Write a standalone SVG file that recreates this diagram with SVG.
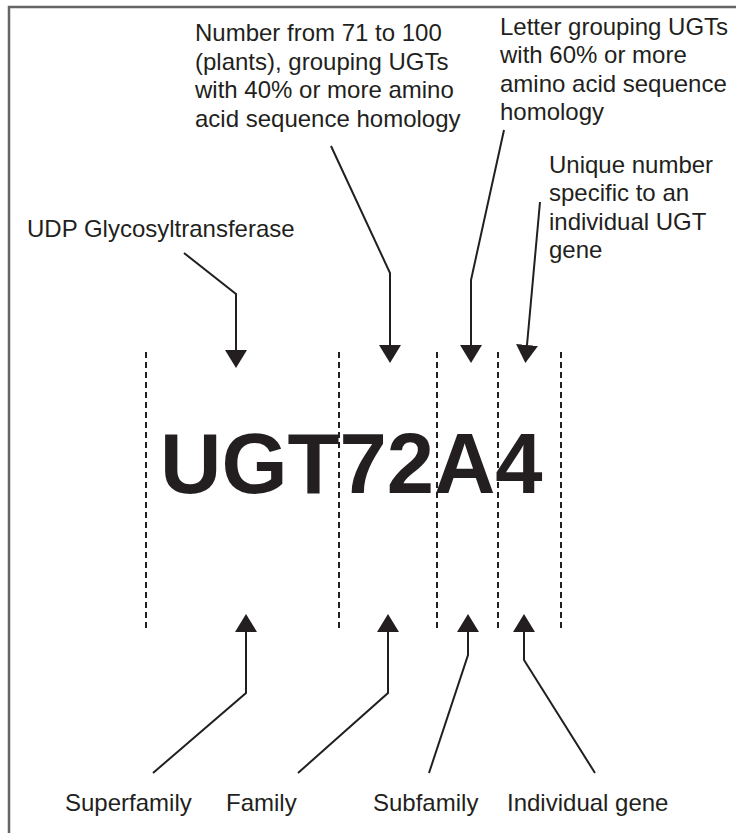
<svg xmlns="http://www.w3.org/2000/svg" width="736" height="833" viewBox="0 0 736 833">
<style>
.t{font-family:"Liberation Sans",Arial,sans-serif;font-size:24px;fill:#231f20}
.big{font-family:"Liberation Sans",Arial,sans-serif;font-size:85px;font-weight:bold;fill:#231f20}
.ln{fill:none;stroke:#231f20;stroke-width:2;stroke-linejoin:miter}
.dash{stroke:#231f20;stroke-width:2;stroke-dasharray:6,4}
</style>
<defs>
<marker id="ah" markerUnits="userSpaceOnUse" markerWidth="20" markerHeight="24" viewBox="0 -12 20 24" refX="0" refY="0" orient="auto">
<path d="M0,-11 L18,0 L0,11 z" fill="#231f20"/>
</marker>
</defs>
<rect x="9" y="7" width="740" height="840" fill="none" stroke="#666" stroke-width="2.5"/>
<g id="guides">
<line class="dash" x1="146" y1="352" x2="146" y2="629"/>
<line class="dash" x1="339" y1="352" x2="339" y2="629"/>
<line class="dash" x1="437" y1="352" x2="437" y2="629"/>
<line class="dash" x1="498" y1="352" x2="498" y2="629"/>
<line class="dash" x1="561" y1="352" x2="561" y2="629"/>
</g>
<g id="code"><text class="big" x="160" y="493">UGT72A4</text></g>
<g id="label-family-number">
<text class="t" x="195" y="41">Number from 71 to 100</text>
<text class="t" x="195" y="70">(plants), grouping UGTs</text>
<text class="t" x="195" y="98">with 40% or more amino</text>
<text class="t" x="195" y="127">acid sequence homology</text>
</g>
<g id="label-letter">
<text class="t" x="500" y="35">Letter grouping UGTs</text>
<text class="t" x="500" y="63">with 60% or more</text>
<text class="t" x="500" y="92">amino acid sequence</text>
<text class="t" x="500" y="120">homology</text>
</g>
<g id="label-unique">
<text class="t" x="549" y="173">Unique number</text>
<text class="t" x="549" y="201">specific to an</text>
<text class="t" x="549" y="230">individual UGT</text>
<text class="t" x="549" y="258">gene</text>
</g>
<g id="label-udp"><text class="t" x="27" y="237">UDP Glycosyltransferase</text></g>
<g id="label-superfamily"><text class="t" x="65" y="811">Superfamily</text></g>
<g id="label-family"><text class="t" x="226" y="811">Family</text></g>
<g id="label-subfamily"><text class="t" x="373" y="811">Subfamily</text></g>
<g id="label-gene"><text class="t" x="507" y="811">Individual gene</text></g>
<g id="connectors">
<path class="ln" d="M184,253 L236,294 L236,350" marker-end="url(#ah)"/>
<path class="ln" d="M331,146 L390,273 L390,345" marker-end="url(#ah)"/>
<path class="ln" d="M504,130 L471,280 L471,345" marker-end="url(#ah)"/>
<path class="ln" d="M540,202 L527,345" marker-end="url(#ah)"/>
<path class="ln" d="M153,773 L246,693 L246,632" marker-end="url(#ah)"/>
<path class="ln" d="M298,773 L388,693 L388,632" marker-end="url(#ah)"/>
<path class="ln" d="M429,773 L468,655 L468,632" marker-end="url(#ah)"/>
<path class="ln" d="M595,773 L524,660 L524,632" marker-end="url(#ah)"/>
</g>
</svg>
